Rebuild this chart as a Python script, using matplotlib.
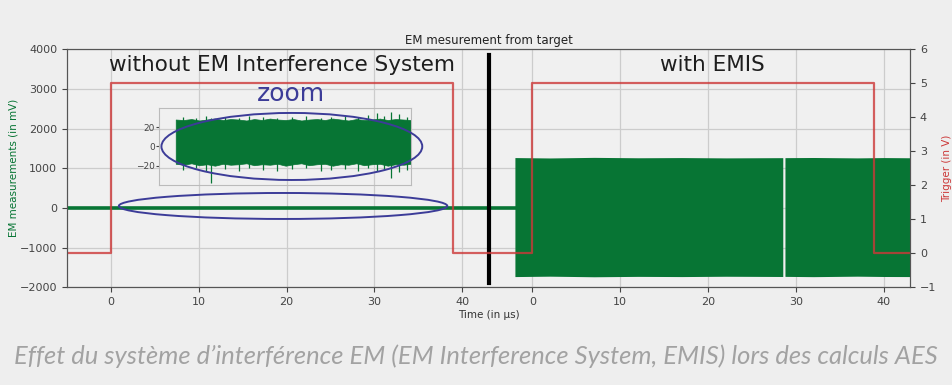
import numpy as np
import matplotlib.pyplot as plt
from matplotlib.patches import Ellipse

# ── data ────────────────────────────────────────────────
# one time axis: first run (no EMIS) then second run (with EMIS), shifted by 48 µs
TICK_POS = [0, 10, 20, 30, 40, 48, 58, 68, 78, 88]
TICK_LBL = ['0', '10', '20', '30', '40', '0', '10', '20', '30', '40']

# trigger (V), steps-post
trig_t = [-5, 0, 38.9, 48, 86.9, 91]
trig_v = [0, 5, 0, 5, 0, 0]

# EM trace without EMIS (mV) -- flat at this scale
quiet_t = [-5, 46]
quiet_v = [0, 0]

# EM trace with EMIS: envelope of the oscillation (mV), split by one short gap
block1_t = [46, 50, 55, 60, 65, 70, 76.5]
block1_top = [1270, 1260, 1275, 1265, 1270, 1262, 1268]
block1_bot = [-1730, -1720, -1735, -1725, -1730, -1722, -1728]
block2_t = [76.75, 80, 85, 88, 91]
block2_top = [1268, 1272, 1262, 1270, 1265]
block2_bot = [-1725, -1732, -1720, -1728, -1730]

# zoomed window of the EM trace without EMIS (mV): band envelope + spikes
zoom_top = [28, 27.5, 28.5, 27, 28, 29, 27.5, 28.5, 28, 27, 28.5, 27.5, 29, 28, 27.5,
            28.5, 27, 28, 28.5, 27.5, 29, 28, 27, 28.5, 27.5, 28, 29, 27.5, 28.5, 28, 27.5]
zoom_bot = [-18, -19, -17.5, -19.5, -18.5, -20, -18, -19, -18.5, -17.5, -19.5, -18.5, -19, -18, -20,
            -18.5, -17.5, -19.5, -18.5, -18, -20, -18.5, -19, -17.5, -19.5, -18.5, -18, -20, -18.5, -19, -18]
zoom_t = np.linspace(0, 40, len(zoom_top))

spike_t = [1.2, 3.5, 5.1, 6.0, 8.3, 10.7, 12.4, 14.9, 17.2, 19.8, 22.1, 24.6, 26.3,
           28.8, 31.0, 32.7, 34.1, 35.4, 36.6, 37.9, 39.2]
spike_lo = [-24, -22, -26, -38, -23, -25, -22, -24, -26, -23, -22, -25, -24,
            -23, -26, -22, -25, -24, -33, -27, -24]
spike_hi = [31, 30, 32, 30, 31, 30, 32, 31, 30, 31, 32, 30, 31,
            32, 31, 33, 35, 32, 36, 34, 31]

GREEN = '#077534'
RED = '#cc3838'
BLUE = '#3c3c98'
BG = '#eeeeee'

fig = plt.figure(figsize=(9.52, 3.85), dpi=100, facecolor=BG)
ax = fig.add_axes([0.0704, 0.2538, 0.8856, 0.6182])
ax.set_facecolor('#f0f0f0')

ax.plot(quiet_t, quiet_v, color=GREEN, lw=2.6, zorder=3)
ax.fill_between(block1_t, block1_bot, block1_top, color=GREEN, lw=0, zorder=3)
ax.fill_between(block2_t, block2_bot, block2_top, color=GREEN, lw=0, zorder=3)
ax.plot([43, 43], [-1880, 3850], color='black', lw=3, zorder=6)

ax.set_xlim(-5, 91)
ax.set_ylim(-2000, 4000)
ax.set_xticks(TICK_POS)
ax.set_xticklabels(TICK_LBL)
ax.set_yticks(range(-2000, 4001, 1000))
ax.grid(True, color='#cccccc', lw=0.9)
ax.set_axisbelow(True)
ax.tick_params(labelsize=8, colors='#444444')
ax.set_ylabel('EM measurements (in mV)', color=GREEN, fontsize=7.5, labelpad=1)
ax.set_xlabel('Time (in µs)', fontsize=7.5, color='#333333', labelpad=2)
ax.set_title('EM mesurement from target', fontsize=8.5, color='#222222', pad=4)
for s in ax.spines.values():
    s.set_color('#555555')

ax2 = ax.twinx()
ax2.plot(trig_t, trig_v, color=RED, lw=1.6, alpha=0.8, drawstyle='steps-post')
ax2.set_ylim(-1, 6)
ax2.set_yticks(range(-1, 7))
ax2.tick_params(labelsize=8, colors='#444444')
ax2.set_ylabel('Trigger (in V)', color=RED, fontsize=7.5)
for s in ax2.spines.values():
    s.set_color('#555555')

ax.text(19.5, 3600, 'without EM Interference System', fontsize=15.5,
        ha='center', va='center', color='#1e1e1e', zorder=7)
ax.text(68.5, 3600, 'with EMIS', fontsize=15.5,
        ha='center', va='center', color='#1e1e1e', zorder=7)
ax.text(20.5, 2880, 'zoom', fontsize=18, ha='center', va='center', color=BLUE, zorder=7)

# inset
axi = ax.inset_axes([5.5, 580, 28.7, 1940], transform=ax.transData)
axi.set_facecolor('none')
axi.fill_between(zoom_t, zoom_bot, zoom_top, color=GREEN, lw=0.5, edgecolor=GREEN)
axi.vlines(spike_t, spike_lo, spike_hi, color=GREEN, lw=0.9)
axi.set_xlim(-2.8, 40)
axi.set_ylim(-40, 40)
axi.set_yticks([-20, 0, 20])
axi.set_xticks([])
axi.tick_params(labelsize=6.5, colors='#444444', length=2, pad=1)
for s in axi.spines.values():
    s.set_color('#bbbbbb')

# ellipses
fig.add_artist(Ellipse((20.6, 1550), 29.7, 1690, transform=ax.transData,
                       fill=False, ec=BLUE, lw=1.4, zorder=8))
fig.add_artist(Ellipse((19.6, 50), 37.4, 655, transform=ax.transData,
                       fill=False, ec=BLUE, lw=1.4, zorder=8))

fig.text(0.5, 1 - 356 / 385, 'Effet du système d’interférence EM (EM Interference System, EMIS) lors des calculs AES',
         ha='center', va='center', fontsize=18.4, style='italic', color='#a2a2a2',
         family=['Lato', 'DejaVu Sans'])

fig.savefig('out.png', dpi=100, facecolor=BG)
